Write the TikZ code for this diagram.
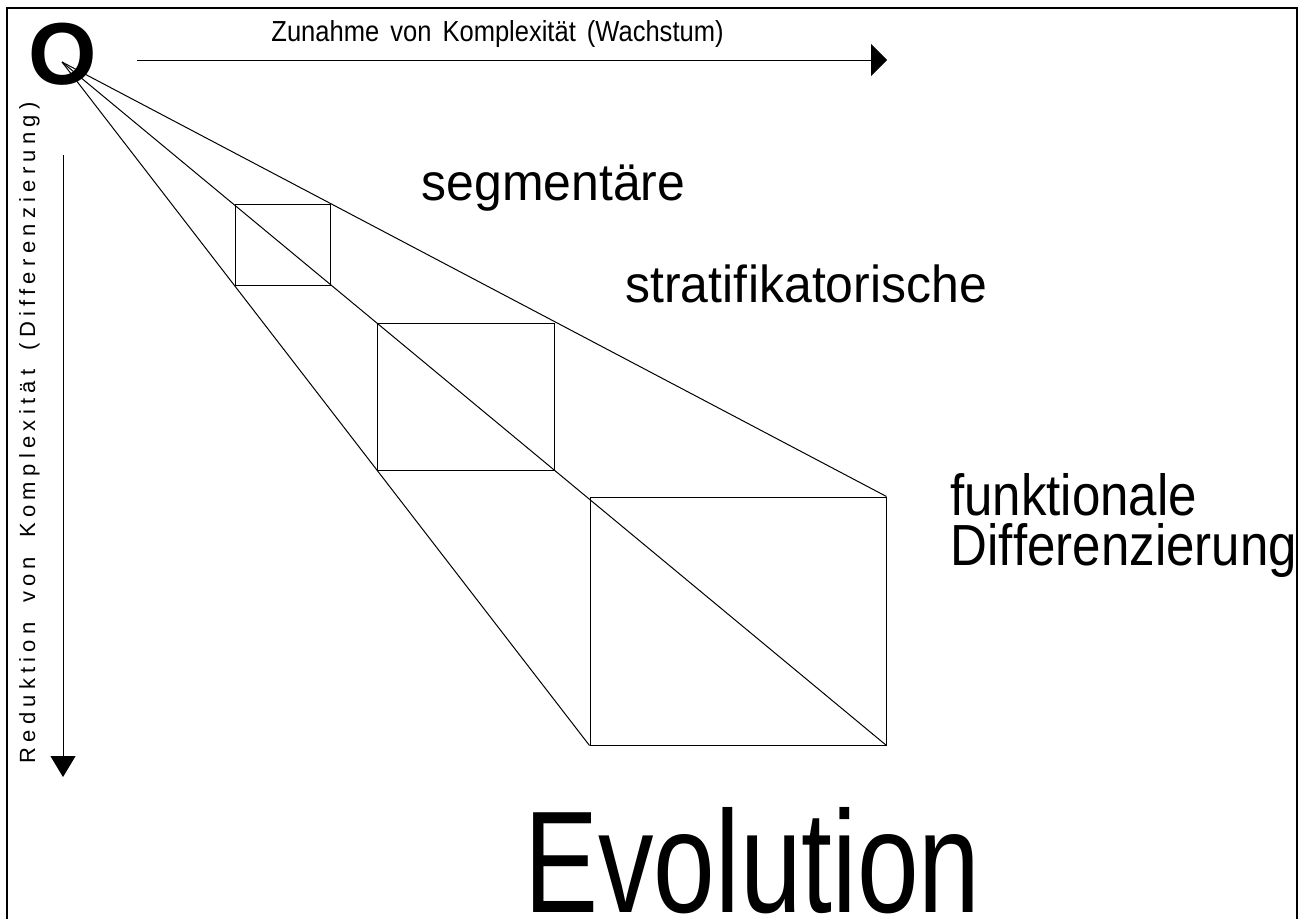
\documentclass[tikz,border=0pt]{standalone}
\usepackage{fontspec}
\setmainfont{Liberation Sans}
\newfontfamily\narrowfont[FakeStretch=0.88, Ligatures=CommonOff]{Liberation Sans}
\newfontfamily\formfont[FakeStretch=0.96, Ligatures=CommonOff]{Liberation Sans}
\newfontfamily\evofont[FakeStretch=0.765]{Liberation Sans}
\newfontfamily\spacedfont[LetterSpace=24, Ligatures=CommonOff]{Liberation Sans}
\usetikzlibrary{arrows.meta, positioning}

\begin{document}
\begin{tikzpicture}[x=1pt, y=-1pt,
	frame/.style={line width=2.4pt},
	box/.style={draw, line width=1pt, inner sep=0pt},
	ray/.style={line width=1pt},
	axisline/.style={line width=1pt},
	lbl/.style={inner sep=0pt, anchor=base}]
	\useasboundingbox (0,0) rectangle (1304,919);
	\draw[frame] (6.7,919) -- (6.7,8) -- (1297,8) -- (1297,919);
	% origin and the two axes
	\node[lbl, font=\bfseries\fontsize{88}{88}\selectfont] (origin) at (62.5,84) {O};
	\coordinate (apex) at (62,62);
	\coordinate (hstart) at (137,60);
	\coordinate (hend) at (887,60);
	\coordinate (vstart) at (63,155);
	\coordinate (vend) at (63,777);
	\draw[axisline, -{Triangle[length=16pt, width=32pt]}] (hstart) -- (hend);
	\draw[axisline, -{Triangle[length=21pt, width=25pt]}] (vstart) -- (vend);
	\node[lbl, font=\narrowfont\fontsize{29}{29}\selectfont] (growth) at (497.5,41) {Zunahme\hspace{4pt} von\hspace{4pt} Komplexität\hspace{4pt} (Wachstum)};
	\node[lbl, rotate=90, font=\spacedfont\fontsize{22}{22}\selectfont] (reduction) at (35,433) {Reduktion\hspace{8pt} von\hspace{8pt} Komplexität\hspace{8pt} (Differenzierung)};
	% the three forms
	\node[box, minimum width=95pt, minimum height=81pt] (seg) at (282.5,244.5) {};
	\node[box, minimum width=177pt, minimum height=147pt] (strat) at (465.5,396.5) {};
	\node[box, minimum width=296pt, minimum height=248pt] (func) at (738,621) {};
	\draw[ray] (apex) -- (func.north east);
	\draw[ray] (apex) -- (func.south east);
	\draw[ray] (apex) -- (func.south west);
	\node[lbl, font=\formfont\fontsize{52}{52}\selectfont] (seglbl) at (553.5,200) {segmentäre};
	\node[lbl, font=\formfont\fontsize{52}{52}\selectfont] (stratlbl) at (806,302) {stratif\kern1pt ikatorische};
	\node[lbl, anchor=base west, align=left, font=\narrowfont\fontsize{58}{50}\selectfont] (funclbl) at (950,565) {funktionale\\Dif\kern0.5pt f\kern0.3pt erenzierung};
	\node[lbl, font=\evofont\fontsize{145}{145}\selectfont] (evo) at (752.5,912) {Evolution};
\end{tikzpicture}
\end{document}
